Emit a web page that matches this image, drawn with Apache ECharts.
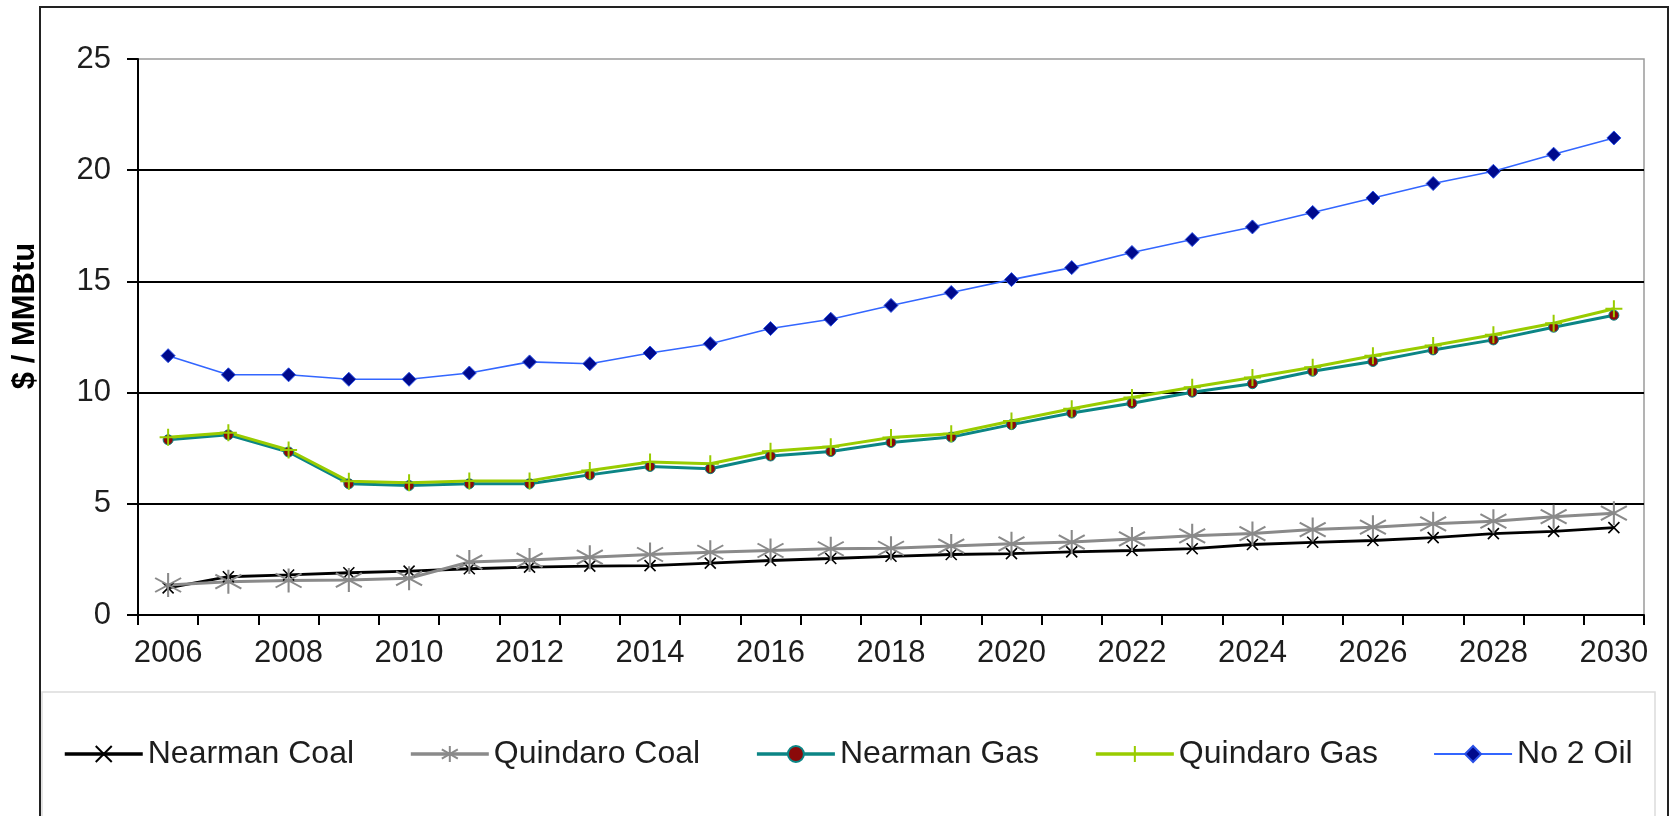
<!DOCTYPE html>
<html>
<head>
<meta charset="utf-8">
<script src="https://cdn.jsdelivr.net/npm/echarts@6/dist/echarts.min.js"></script>
<style>
  html, body { margin: 0; padding: 0; background: #fff; }
  #chart { width: 1673px; height: 816px; }
</style>
</head>
<body>
<div id="chart"></div>
<script>
// Fuel price forecast, $ / MMBtu, 2006-2030
const years = ['2006','2007','2008','2009','2010','2011','2012','2013','2014','2015','2016','2017','2018',
               '2019','2020','2021','2022','2023','2024','2025','2026','2027','2028','2029','2030'];
const yTicks = [0, 5, 10, 15, 20, 25];

const nearmanCoal  = [1.22, 1.72, 1.80, 1.90, 1.97, 2.08, 2.15, 2.20, 2.22, 2.33, 2.45, 2.54, 2.64,
                      2.72, 2.76, 2.84, 2.90, 2.98, 3.17, 3.27, 3.35, 3.48, 3.66, 3.76, 3.93];
const quindaroCoal = [1.35, 1.50, 1.55, 1.57, 1.65, 2.38, 2.47, 2.60, 2.72, 2.82, 2.90, 2.98, 3.00,
                      3.10, 3.20, 3.28, 3.42, 3.56, 3.66, 3.84, 3.95, 4.10, 4.22, 4.42, 4.58];
const nearmanGas   = [7.88, 8.10, 7.33, 5.90, 5.82, 5.90, 5.90, 6.30, 6.68, 6.58, 7.15, 7.35, 7.76,
                      8.00, 8.56, 9.08, 9.52, 10.02, 10.40, 10.96, 11.40, 11.92, 12.37, 12.94, 13.48];
const quindaroGas  = [7.99, 8.20, 7.42, 6.01, 5.95, 6.02, 6.03, 6.50, 6.88, 6.80, 7.36, 7.56, 7.98,
                      8.15, 8.72, 9.27, 9.78, 10.24, 10.68, 11.14, 11.66, 12.12, 12.60, 13.12, 13.77];
const no2Oil       = [11.66, 10.80, 10.80, 10.60, 10.60, 10.88, 11.38, 11.30, 11.78, 12.20, 12.88, 13.30, 13.92,
                      14.50, 15.08, 15.62, 16.30, 16.88, 17.45, 18.10, 18.75, 19.40, 19.95, 20.72, 21.45];

const FONT = '"Liberation Sans", Arial, sans-serif';
const TXT = '#1e1e1e';

// stroke-only marker shapes
const xMark    = 'path://M0,0L10,10M0,10L10,0';
const starMark = 'path://M12,0L12,24M1,5L23,19M1,19L23,5';
const plusMark = 'path://M8,0L8,16M0,8L16,8';

const C_BLACK = '#000', C_GRAY = '#8a8a8a', C_TEAL = '#0b8585', C_GREEN = '#99cc00', C_BLUE = '#3366ff';

const chart = echarts.init(document.getElementById('chart'), null, { renderer: 'canvas' });

chart.setOption({
  animation: false,
  backgroundColor: '#fff',
  grid: {
    left: 138, right: 29, top: 59, bottom: 201,
    show: true, borderColor: '#9a9a9a', borderWidth: 1.5, backgroundColor: 'transparent'
  },
  xAxis: {
    type: 'category',
    data: years,
    boundaryGap: true,
    axisLine: { lineStyle: { color: '#000', width: 2 } },
    axisTick: { show: true, interval: 0, length: 10, lineStyle: { color: '#000', width: 2 } },
    axisLabel: { interval: 1, margin: 23, color: TXT, fontFamily: FONT, fontSize: 31 },
    splitLine: { show: false }
  },
  yAxis: {
    type: 'value',
    min: yTicks[0], max: yTicks[yTicks.length - 1], interval: 5,
    axisLine: { show: true, lineStyle: { color: '#000', width: 2 } },
    axisTick: { show: true, length: 11, lineStyle: { color: '#000', width: 2 } },
    axisLabel: { margin: 27, color: TXT, fontFamily: FONT, fontSize: 31 },
    splitLine: { show: true, showMaxLine: false, lineStyle: { color: '#000', width: 2 } }
  },
  legend: {
    left: 63, top: 738, padding: 0,
    itemWidth: 78, itemHeight: 20, itemGap: 55,
    textStyle: { color: TXT, fontFamily: FONT, fontSize: 32 },
    data: [
      { name: 'Nearman Coal',  lineStyle: { color: C_BLACK, width: 3.5 } },
      { name: 'Quindaro Coal', lineStyle: { color: C_GRAY,  width: 3.5 } },
      { name: 'Nearman Gas',   lineStyle: { color: C_TEAL,  width: 3.5 } },
      { name: 'Quindaro Gas',  lineStyle: { color: C_GREEN, width: 3.5 } },
      { name: 'No 2 Oil',      lineStyle: { color: C_BLUE,  width: 2 } }
    ]
  },
  graphic: [
    { type: 'rect', silent: true, z: -1,
      shape: { x: 40, y: 7, width: 1628, height: 900 },
      style: { fill: 'none', stroke: '#222', lineWidth: 2 } },
    { type: 'rect', silent: true, z: -1,
      shape: { x: 42, y: 692, width: 1613, height: 200 },
      style: { fill: 'none', stroke: '#dcdcdc', lineWidth: 1.5 } },
    { type: 'text', silent: true,
      x: 25, y: 316, rotation: Math.PI / 2,
      style: { text: '$ / MMBtu', fill: '#000', font: 'bold 31px ' + FONT,
               textAlign: 'center', textVerticalAlign: 'middle' } }
  ],
  series: [
    {
      name: 'Nearman Coal', type: 'line', data: nearmanCoal,
      symbol: xMark, symbolSize: 11, showAllSymbol: true,
      lineStyle: { color: C_BLACK, width: 2.8 },
      itemStyle: { color: C_BLACK, borderColor: C_BLACK, borderWidth: 1.6 }
    },
    {
      name: 'Quindaro Coal', type: 'line', data: quindaroCoal,
      symbol: starMark, symbolSize: [26, 24], showAllSymbol: true,
      lineStyle: { color: C_GRAY, width: 3 },
      itemStyle: { color: C_GRAY, borderColor: C_GRAY, borderWidth: 2 }
    },
    {
      name: 'Nearman Gas', type: 'line', data: nearmanGas,
      symbol: 'circle', symbolSize: 10, showAllSymbol: true,
      lineStyle: { color: C_TEAL, width: 3 },
      itemStyle: { color: '#8b0a0a', borderColor: C_TEAL, borderWidth: 1 }
    },
    {
      name: 'Quindaro Gas', type: 'line', data: quindaroGas,
      symbol: plusMark, symbolSize: 17, showAllSymbol: true,
      lineStyle: { color: C_GREEN, width: 3 },
      itemStyle: { color: C_GREEN, borderColor: C_GREEN, borderWidth: 2 }
    },
    {
      name: 'No 2 Oil', type: 'line', data: no2Oil,
      symbol: 'diamond', symbolSize: 14, showAllSymbol: true,
      lineStyle: { color: C_BLUE, width: 1.6 },
      itemStyle: { color: '#000a8c', borderColor: '#2a50e6', borderWidth: 1 }
    }
  ]
});
</script>
</body>
</html>
